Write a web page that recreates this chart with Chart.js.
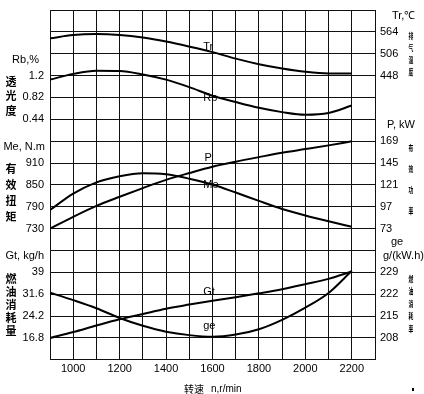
<!DOCTYPE html>
<html>
<head>
<meta charset="utf-8">
<script src="https://cdn.jsdelivr.net/npm/chart.js@4"></script>
<style>
  body { margin: 0; background: #fff; }
</style>
</head>
<body>
<canvas id="myChart" width="424" height="394"></canvas>
<script>
// engine speed, r/min
const rpm = [900, 1000, 1100, 1200, 1300, 1400, 1500, 1600, 1700, 1800, 1900, 2000, 2100, 2200];

// curves
const trData = [546.7, 555.5, 558, 555.5, 548.8, 538.2, 524.9, 510.3, 493, 478.3, 466.9, 458, 453.5, 453.5];
const rbData = [1.13, 1.23, 1.285, 1.28, 1.22, 1.13, 1.0, 0.85, 0.74, 0.64, 0.565, 0.52, 0.55, 0.68];
const meData = [781, 826, 857, 874, 882, 879, 867, 851, 829, 806, 784, 766, 750, 735];
const pData = [73, 86, 98, 108, 117.5, 126.5, 134, 141, 146.5, 151.5, 156.3, 160.3, 164.4, 168.8];
const gtData = [16.8, 18.8, 21.0, 23.1, 24.9, 26.7, 28.1, 29.4, 30.6, 31.9, 33.3, 35.0, 36.8, 39.3];
const geData = [222.5, 220.1, 217.5, 214.4, 211.9, 210.0, 208.9, 208.4, 209.1, 210.8, 213.8, 217.7, 222.4, 229.5];

// tick labels of each axis
const trTicks = [564, 506, 448];
const rbTicks = [1.2, 0.82, 0.44];
const meTicks = [910, 850, 790, 730];
const pTicks = [169, 145, 121, 97, 73];
const gtTicks = [39, 31.6, 24.2, 16.8];
const geTicks = [229, 222, 215, 208];

const FONT = '"Liberation Sans", Arial, sans-serif';
const CJK = '"Noto Sans CJK SC", sans-serif';

const leftAxes = [
  { id: "yRb", ticks: rbTicks, title: "Rb,%", titleX: 39, side: "透光度", sideStep: 14.5 },
  { id: "yMe", ticks: meTicks, title: "Me, N.m", titleX: 45, side: "有效扭矩", sideStep: 16 },
  { id: "yGt", ticks: gtTicks, title: "Gt, kg/h", titleX: 44, side: "燃油消耗量", sideStep: 13 },
];
const rightAxes = [
  { id: "yTr", ticks: trTicks, titles: ["Tr,℃"], titleX: 392, side: "排气温度", sideStart: 4, sideStep: 12 },
  { id: "yP", ticks: pTicks, titles: ["P, kW"], titleX: 387, side: "有效功率", sideStart: 7, sideStep: 21 },
  { id: "yGe", ticks: geTicks, titles: ["ge", "g/(kW.h)"], titleX: 383, side: "燃油消耗率", sideStart: 6.5, sideStep: 12.5 },
];

// curve name labels: [text, axis, rpm, value]
const curveLabels = [
  ["Tr", "yTr", 1560, 524],
  ["Rb", "yRb", 1560, 0.81],
  ["P", "yP", 1565, 151],
  ["Me", "yMe", 1560, 851],
  ["Gt", "yGt", 1560, 32.4],
  ["ge", "yGe", 1560, 211.9],
];

const textPlugin = {
  id: "texts",
  afterDraw(chart) {
    const c = chart.ctx, s = chart.scales, a = chart.chartArea;
    c.save();
    c.fillStyle = "#000";
    c.textBaseline = "middle";

    leftAxes.forEach(ax => {
      const sc = s[ax.id];
      c.font = "11px " + FONT;
      c.textAlign = "right";
      ax.ticks.forEach(v => c.fillText(String(v), a.left - 6, sc.getPixelForValue(v)));
      const y0 = sc.getPixelForValue(ax.ticks[0]);
      c.fillText(ax.title, ax.titleX, y0 - 16);
      c.font = "bold 11px " + CJK;
      c.textAlign = "center";
      [...ax.side].forEach((ch, i) => c.fillText(ch, 11, y0 + 6 + i * ax.sideStep));
    });

    rightAxes.forEach(ax => {
      const sc = s[ax.id];
      c.font = "11px " + FONT;
      c.textAlign = "left";
      ax.ticks.forEach(v => c.fillText(String(v), a.right + 5, sc.getPixelForValue(v)));
      const y0 = sc.getPixelForValue(ax.ticks[0]);
      ax.titles.forEach((t, i) => {
        const tx = i === 0 && ax.titles.length > 1 ? 391 : ax.titleX;
        c.fillText(t, tx, y0 - 16 - (ax.titles.length - 1 - i) * 14);
      });
      c.font = "bold 8px " + CJK;
      c.textAlign = "center";
      [...ax.side].forEach((ch, i) => {
        c.save();
        c.translate(411, y0 + ax.sideStart + i * ax.sideStep);
        c.scale(0.6, 1);
        c.fillText(ch, 0, 0);
        c.restore();
      });
    });

    c.font = "11px " + FONT;
    c.textAlign = "left";
    curveLabels.forEach(([t, id, x, v]) => {
      c.fillText(t, s.x.getPixelForValue(x), s[id].getPixelForValue(v));
    });

    // x axis title
    c.font = "10px " + CJK;
    c.textAlign = "left";
    c.fillText("转速", 184, a.bottom + 29);
    c.font = "10px " + FONT;
    c.fillText("n,r/min", 211, a.bottom + 29);
    c.fillRect(412, 388, 2, 3);
    c.restore();
  },
};

const line = (data, axis) => ({
  data: data.map((v, j) => ({ x: rpm[j], y: v })),
  yAxisID: axis,
  borderColor: "#000",
  borderWidth: 2,
  pointRadius: 0,
  cubicInterpolationMode: "monotone",
  fill: false,
});

const hidden = (min, max) => ({ type: "linear", display: false, min: min, max: max });

const ctx = document.getElementById("myChart").getContext("2d");
new Chart(ctx, {
  type: "line",
  data: {
    datasets: [
      line(trData, "yTr"),
      line(rbData, "yRb"),
      line(meData, "yMe"),
      line(pData, "yP"),
      line(gtData, "yGt"),
      line(geData, "yGe"),
    ],
  },
  options: {
    responsive: false,
    animation: false,
    layout: { padding: { left: 50, right: 49, top: 10, bottom: 15 } },
    plugins: { legend: { display: false }, tooltip: { enabled: false } },
    scales: {
      x: {
        type: "linear",
        min: 900,
        max: 2300,
        grid: { color: "#111", lineWidth: 1, drawTicks: false },
        border: { color: "#111" },
        ticks: {
          stepSize: 100,
          autoSkip: false,
          maxRotation: 0,
          padding: 3,
          color: "#000",
          font: { family: FONT, size: 11 },
          callback: v => (v >= 1000 && v <= 2200 && v % 200 === 0 ? String(v) : ""),
        },
      },
      yg: {
        type: "linear",
        position: "left",
        min: 0,
        max: 16,
        grid: { color: "#111", lineWidth: 1, drawTicks: false },
        border: { color: "#111" },
        ticks: { stepSize: 1, display: false },
      },
      yTr: hidden(-306, 622),
      yRb: hidden(-3.74, 2.34),
      yMe: hidden(370, 1330),
      yP: hidden(-71, 313),
      yGt: hidden(9.4, 127.8),
      yGe: hidden(201, 313),
    },
  },
  plugins: [textPlugin],
});
</script>
</body>
</html>
